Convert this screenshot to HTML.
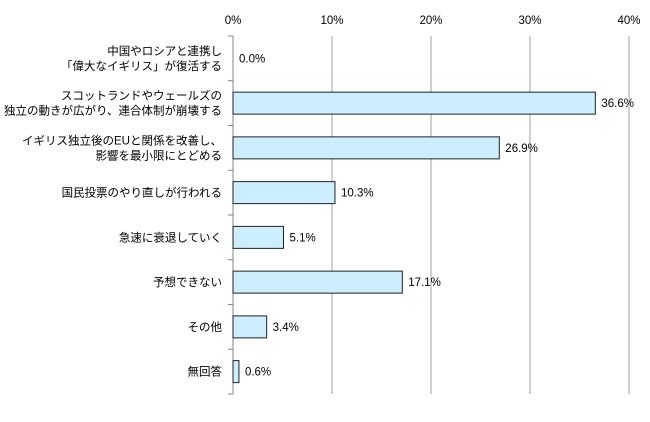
<!DOCTYPE html>
<html><head><meta charset="utf-8"><style>
body{margin:0;background:#fff}
svg text{font-family:"Liberation Sans","Noto Sans CJK JP",sans-serif;font-size:11.5px;fill:#000}
</style></head><body>
<svg width="650" height="417">
<g id="grid"></g><g id="bars"></g><g id="labels"></g>
</svg>
<script>
const categories=[["中国やロシアと連携し","「偉大なイギリス」が復活する"],["スコットランドやウェールズの","独立の動きが広がり、連合体制が崩壊する"],["イギリス独立後のEUと関係を改善し、","影響を最小限にとどめる"],["国民投票のやり直しが行われる"],["急速に衰退していく"],["予想できない"],["その他"],["無回答"]];
const values=[0.0,36.6,26.9,10.3,5.1,17.1,3.4,0.6];
const tickValues=[0,10,20,30,40];
const NS="http://www.w3.org/2000/svg";
const x0=233,x1=629,yTop=36,yBottom=394,maxV=40;
const xs=v=>x0+(x1-x0)*v/maxV;
const band=(yBottom-yTop)/categories.length;
const yc=i=>yTop+band*(i+0.5);
function mk(tag,attrs,parent,txt){const e=document.createElementNS(NS,tag);for(const k in attrs)e.setAttribute(k,attrs[k]);if(txt!==undefined)e.textContent=txt;parent.appendChild(e);return e;}
const grid=document.getElementById('grid'),bars=document.getElementById('bars'),labels=document.getElementById('labels');
tickValues.forEach(t=>{
 const l=mk('line',{x1:xs(t),x2:xs(t),y1:yTop,y2:yBottom,stroke:t===0?'#868686':'#a0a0a0','stroke-width':1},grid);
 
 
 const tx=mk('text',{x:xs(t),y:24,'text-anchor':'middle'},labels,t+'%');
 
 
});
for(let i=0;i<=categories.length;i++){
 const y=yTop+band*i;
 const tk=mk('line',{x1:x0-5,x2:x0,y1:y,y2:y,stroke:'#868686'},grid);
 
 
}
categories.forEach((c,i)=>{
 const v=values[i],y=yc(i);
 if(v>0){
  const r=mk('rect',{x:x0,y:y-11,width:xs(v)-x0,height:22,fill:'#cceeff',stroke:'#222','stroke-width':1},bars);
  
  
 }
 const vt=mk('text',{x:xs(v)+6,y:y+4},labels,v.toFixed(1)+'%');
 
 
 const n=c.length;
 c.forEach((line,j)=>{
  const t=mk('text',{x:222,y:y+4+(j-(n-1)/2)*15,'text-anchor':'end'},labels,line);
  
  
 });
});
</script>
</body></html>
